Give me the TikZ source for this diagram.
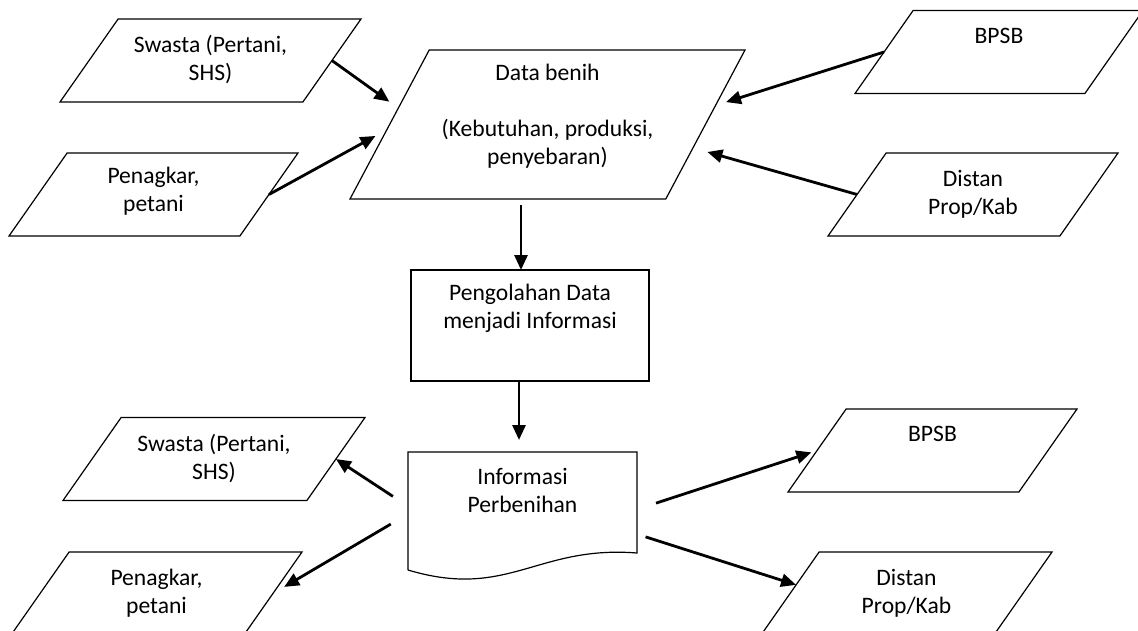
\documentclass[tikz,border=0pt]{standalone}
\usepackage{fontspec}
\setmainfont{Carlito}
\usetikzlibrary{calc,arrows.meta,shapes.geometric}

\begin{document}
\begin{tikzpicture}[x={(1pt,0pt)},y={(0pt,-1pt)},
  every node/.style={font=\fontsize{23.6}{28}\selectfont,align=center},
  io/.style={draw,line width=1.2pt,trapezium,trapezium left angle=55,trapezium right angle=125,
    trapezium stretches body,minimum height=83pt,inner sep=0pt,outer sep=0pt},
  proses/.style={draw,line width=1.2pt,rectangle,minimum width=238pt,minimum height=111pt,outer sep=0pt},
  panah/.style={line width=2.8pt,-{Triangle[length=15pt,width=13pt]}}]
  \clip (0,0) rectangle (1138,630);
  % data benih dan sumbernya
  \node[io,trapezium left angle=62,trapezium right angle=118,minimum width=395pt,minimum height=149pt,
    text height=114.5pt,text depth=34.5pt] (data) at (547.5,124.5) {Data benih\\ \\(Kebutuhan, produksi,\\penyebaran)};
  \node[io,minimum width=301pt,text height=61.5pt,text depth=21.5pt] (swastaA) at (210.5,60.5) {Swasta (Pertani,\\SHS)};
  \node[io,minimum width=289pt,text height=58.5pt,text depth=24.5pt] (penangkarA) at (153.5,194.5) {Penagkar,\\petani};
  \node[io,minimum width=288pt,text height=33pt,text depth=50pt] (bpsbA) at (999,52) {BPSB};
  \node[io,minimum width=290pt,text height=61pt,text depth=22pt] (distanA) at (973,194.5) {Distan\\Prop/Kab};
  \draw[panah,shorten >=11pt] (swastaA.right side) -- ($(data.top left corner)!0.39!(data.bottom left corner)$);
  \draw[panah,shorten >=13pt] (penangkarA.right side) -- ($(data.top left corner)!0.535!(data.bottom left corner)$);
  \draw[panah,shorten >=11pt] (bpsbA.left side) -- ($(data.top right corner)!0.372!(data.bottom right corner)$);
  \draw[panah,shorten >=15pt] (distanA.left side) -- ($(data.top right corner)!0.657!(data.bottom right corner)$);
  % pengolahan
  \node[proses,text depth=38pt] (olah) at (530,325.5) {Pengolahan Data\\menjadi Informasi};
  \draw[panah] ($(data.south -| olah.north)+(-9,6)$) -- ($(olah.north)+(-9,0)$);
  % dokumen informasi
  \node[minimum width=229pt,minimum height=118pt,outer sep=0pt,text depth=41pt] (info) at (522.5,511) {Informasi\\Perbenihan};
  \draw[line width=1.2pt] (info.south west) -- (info.north west) -- (info.north east) -- ($(info.north east)+(0,101)$)
    .. controls +(-100,-8) and +(100,30) .. (info.south west);
  \draw[panah] ($(olah.south)+(-11,0)$) -- ($(info.north -| olah.south)+(-11,-12)$);
  % penerima informasi
  \node[io,minimum width=302pt,text height=61.5pt,text depth=21.5pt] (swastaB) at (214,459) {Swasta (Pertani,\\SHS)};
  \node[io,minimum width=291pt,text height=61.25pt,text depth=21.75pt] (penangkarB) at (156.5,593.5) {Penagkar,\\petani};
  \node[io,minimum width=289pt,text height=32.5pt,text depth=50.5pt] (bpsbB) at (932.5,450.5) {BPSB};
  \node[io,minimum width=291pt,text height=61pt,text depth=22pt] (distanB) at (906.5,593.5) {Distan\\Prop/Kab};
  \draw[panah,shorten <=18pt] ($(info.north west)!0.46!(info.south west)$) -- (swastaB.right side);
  \draw[panah,shorten <=20pt,shorten >=13pt] ($(info.north west)!0.525!(info.south west)$) -- (penangkarB.right side);
  \draw[panah,shorten <=20pt,shorten >=6pt] ($(info.north east)!0.486!(info.south east)$) -- (bpsbB.left side);
  \draw[panah,shorten <=9pt] ($(info.north east)!0.696!(info.south east)$) -- ($(distanB.top left corner)!0.396!(distanB.bottom left corner)$);
\end{tikzpicture}
\end{document}
